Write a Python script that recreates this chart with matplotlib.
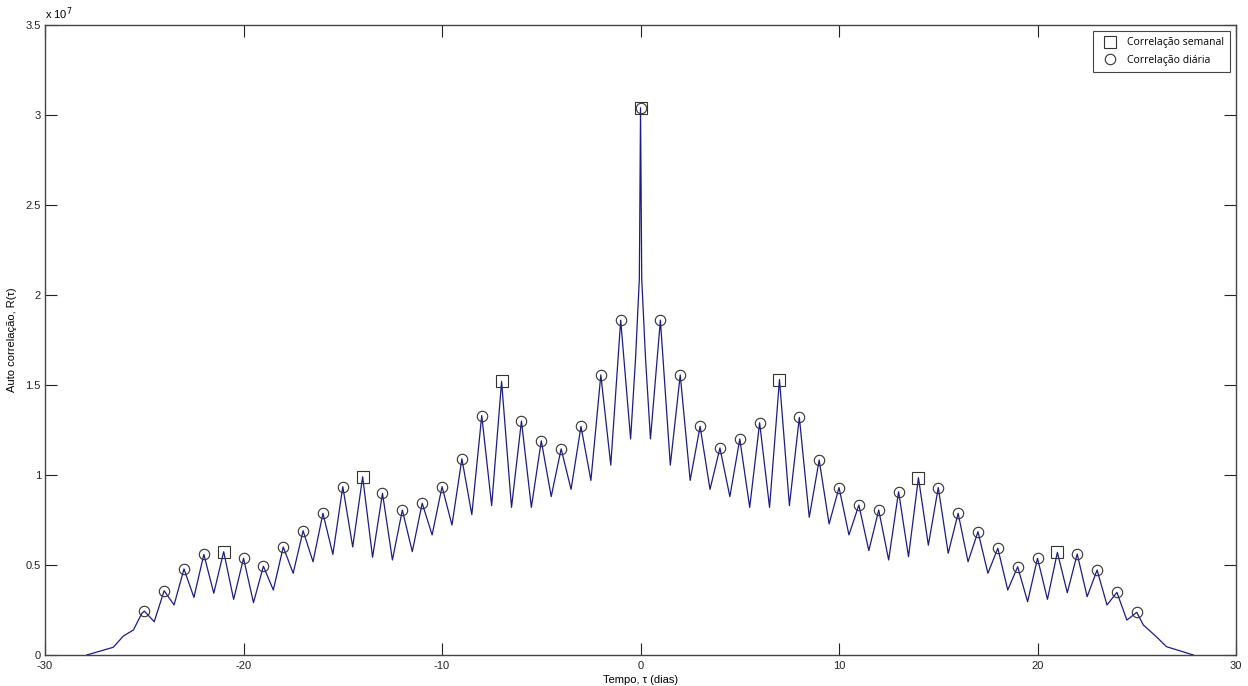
import numpy as np
import matplotlib
matplotlib.use('Agg')
import matplotlib.pyplot as plt
from matplotlib.lines import Line2D
from matplotlib.ticker import FormatStrFormatter

plt.rcParams['axes.unicode_minus'] = False

# valores em unidades de 1e7
dias = list(range(-25, 26))
picos = [0.244, 0.357, 0.478, 0.559, 0.574, 0.537, 0.493, 0.60, 0.69, 0.787,
         0.935, 0.99, 0.898, 0.805, 0.843, 0.935, 1.09, 1.33, 1.52, 1.30,
         1.19, 1.145, 1.27, 1.556, 1.86, 3.04, 1.86, 1.556, 1.27, 1.15,
         1.20, 1.29, 1.53, 1.32, 1.083, 0.93, 0.833, 0.805, 0.907, 0.985,
         0.93, 0.787, 0.685, 0.593, 0.49, 0.537, 0.57, 0.561, 0.472, 0.348,
         0.237]
vales = [0.185, 0.278, 0.32, 0.343, 0.309, 0.291, 0.361, 0.454, 0.518, 0.559,
         0.60, 0.543, 0.528, 0.574, 0.667, 0.722, 0.78, 0.83, 0.82, 0.82,
         0.88, 0.92, 0.97, 1.055, 1.20, 1.20, 1.055, 0.97, 0.92, 0.88,
         0.82, 0.82, 0.83, 0.765, 0.728, 0.667, 0.58, 0.528, 0.546, 0.61,
         0.565, 0.518, 0.454, 0.361, 0.296, 0.309, 0.346, 0.324, 0.278, 0.194]
cauda_esq_x = [-27.9, -26.56, -26.06, -25.55, -25.13]
cauda_esq_y = [0.0, 0.043, 0.105, 0.139, 0.23]
cauda_dir_x = [25.33, 26.0, 26.5, 27.85]
cauda_dir_y = [0.167, 0.10, 0.046, 0.0]
centro_x = [-0.25, -0.06, 0.06, 0.25]
centro_y = [1.65, 2.09, 2.09, 1.65]

dias_semanal = [-21, -14, -7, 0, 7, 14, 21]

# monta a curva: picos nos dias inteiros, vales no meio
pts = {}
for d, p in zip(dias, picos):
    pts[float(d)] = p
for d, v in zip(dias[:-1], vales):
    pts[d + 0.5] = v
for x, y in zip(cauda_esq_x + cauda_dir_x + centro_x,
                cauda_esq_y + cauda_dir_y + centro_y):
    pts[x] = y
xs = np.array(sorted(pts))
ys = np.array([pts[k] for k in xs])

pico_map = dict(zip(dias, picos))
dias_diario = [d for d in dias if d not in dias_semanal or d == 0]
y_diario = [pico_map[d] for d in dias_diario]
y_semanal = [pico_map[d] for d in dias_semanal]

fig = plt.figure(figsize=(12.48, 6.86), dpi=100)
ax = fig.add_axes([0.0361, 0.0452, 0.9543, 0.9184])
ax.plot(xs, ys, color='#1c1c86', lw=0.9)
ax.plot(dias_semanal, y_semanal, 's', ms=8.5, mfc='none', mec='#333333', mew=0.8)
ax.plot(dias_diario, y_diario, 'o', ms=7.5, mfc='none', mec='#333333', mew=0.8)

ax.set_xlim(-30, 30)
ax.set_ylim(0, 3.5)
ax.set_xticks([-30, -20, -10, 0, 10, 20, 30])
ax.set_yticks([0, 0.5, 1, 1.5, 2, 2.5, 3, 3.5])
ax.yaxis.set_major_formatter(FormatStrFormatter('%g'))
ax.tick_params(direction='in', length=8.5, width=0.8, top=True, right=True,
               labelsize=8, colors='#222222')
ax.tick_params(axis='x', pad=4)
ax.tick_params(axis='y', pad=3)
for t in ax.get_xticklabels() + ax.get_yticklabels():
    t.set_family('Liberation Sans')
for s in ax.spines.values():
    s.set_color('#444444')
    s.set_linewidth(1.0)

ax.set_xlabel('Tempo, τ (dias)', fontsize=8, family='Liberation Sans', labelpad=3)
ax.set_ylabel('Auto correlação, R(τ)', fontsize=8, family='Liberation Sans', labelpad=6)
ax.text(0.0, 1.004, 'x 10$^{7}$', transform=ax.transAxes, fontsize=8,
        family='Liberation Sans', ha='left', va='bottom')

handles = [Line2D([], [], ls='none', marker='s', ms=8.5, mfc='none', mec='#333333', mew=0.8),
           Line2D([], [], ls='none', marker='o', ms=7.5, mfc='none', mec='#333333', mew=0.8)]
leg = ax.legend(handles, ['Correlação semanal', 'Correlação diária'], loc='upper right',
                prop={'family': 'Open Sans', 'size': 7.5}, fancybox=False,
                edgecolor='#444444', framealpha=1, borderaxespad=0.6,
                handletextpad=0.6, borderpad=0.6, labelspacing=0.6)
leg.get_frame().set_linewidth(0.8)

fig.savefig('out.png', dpi=100)
